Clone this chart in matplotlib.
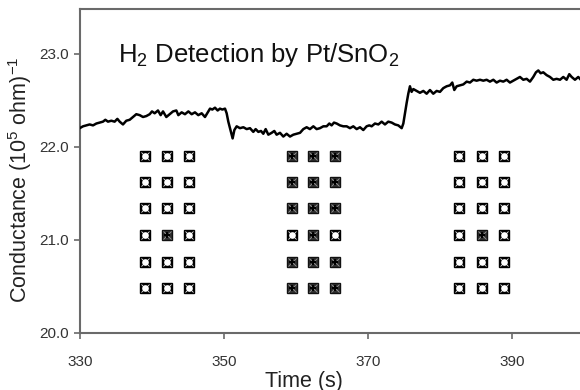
import matplotlib
matplotlib.use("Agg")
import matplotlib.pyplot as plt
import numpy as np

plt.rcParams['font.family'] = ['Liberation Sans', 'DejaVu Sans']
plt.rcParams['mathtext.fontset'] = 'custom'
plt.rcParams['mathtext.rm'] = 'Liberation Sans'
plt.rcParams['mathtext.it'] = 'Liberation Sans:italic'

# ---- trace data (time in s, conductance) ----
time_s = [
    329.96, 330.42, 330.88, 331.34, 331.81, 332.27, 332.73, 333.19, 333.52, 333.89,
    334.35, 334.81, 335.19, 335.51, 335.97, 336.43, 336.90, 337.36, 337.82, 338.29,
    338.75, 339.21, 339.68, 340.00, 340.37, 340.83, 341.20, 341.53, 341.99, 342.46,
    342.92, 343.38, 343.66, 344.12, 344.58, 345.05, 345.51, 345.97, 346.43, 346.90,
    347.36, 347.82, 348.06, 348.38, 348.75, 349.12, 349.44, 349.77, 350.14, 350.37,
    350.60, 350.83, 351.06, 351.20, 351.44, 351.76, 352.22, 352.69, 353.15, 353.61,
    354.07, 354.40, 354.77, 355.14, 355.46, 355.79, 356.16, 356.62, 356.99, 357.31,
    357.78, 358.24, 358.70, 359.17, 359.63, 360.09, 360.56, 361.02, 361.48, 361.94,
    362.41, 362.87, 363.33, 363.80, 364.26, 364.63, 364.95, 365.28, 365.65, 366.11,
    366.57, 367.04, 367.50, 367.96, 368.43, 368.89, 369.35, 369.81, 370.18, 370.51,
    370.97, 371.44, 371.90, 372.36, 372.82, 373.29, 373.75, 374.21, 374.68, 374.91,
    375.14, 375.37, 375.60, 375.83, 376.06, 376.30, 376.76, 377.22, 377.69, 378.15,
    378.61, 379.07, 379.54, 380.00, 380.46, 380.93, 381.39, 381.71, 381.99, 382.32,
    382.78, 383.24, 383.71, 384.17, 384.63, 385.09, 385.56, 386.02, 386.48, 386.94,
    387.41, 387.87, 388.33, 388.80, 389.26, 389.72, 390.19, 390.65, 391.11, 391.57,
    392.04, 392.50, 392.96, 393.33, 393.66, 393.98, 394.35, 394.81, 395.28, 395.74,
    396.20, 396.67, 397.13, 397.59, 397.96, 398.29, 398.75, 399.21, 399.44,
]
conductance = [
    22.20, 22.22, 22.23, 22.24, 22.23, 22.25, 22.26, 22.27, 22.29, 22.27,
    22.28, 22.27, 22.30, 22.27, 22.24, 22.28, 22.29, 22.32, 22.35, 22.34,
    22.32, 22.33, 22.35, 22.38, 22.36, 22.39, 22.34, 22.38, 22.32, 22.35,
    22.38, 22.39, 22.34, 22.37, 22.35, 22.38, 22.35, 22.37, 22.34, 22.36,
    22.32, 22.38, 22.41, 22.40, 22.42, 22.39, 22.41, 22.40, 22.41, 22.36,
    22.27, 22.20, 22.13, 22.09, 22.18, 22.22, 22.20, 22.21, 22.19, 22.20,
    22.16, 22.19, 22.16, 22.17, 22.14, 22.19, 22.13, 22.15, 22.17, 22.13,
    22.15, 22.11, 22.14, 22.11, 22.13, 22.14, 22.15, 22.19, 22.21, 22.19,
    22.22, 22.19, 22.20, 22.22, 22.22, 22.25, 22.23, 22.26, 22.25, 22.23,
    22.22, 22.22, 22.20, 22.22, 22.19, 22.21, 22.18, 22.22, 22.23, 22.22,
    22.25, 22.24, 22.27, 22.24, 22.27, 22.26, 22.24, 22.23, 22.20, 22.25,
    22.36, 22.47, 22.57, 22.65, 22.59, 22.62, 22.60, 22.58, 22.60, 22.57,
    22.61, 22.57, 22.60, 22.59, 22.63, 22.65, 22.66, 22.69, 22.61, 22.65,
    22.66, 22.67, 22.70, 22.69, 22.72, 22.71, 22.72, 22.71, 22.72, 22.70,
    22.72, 22.69, 22.71, 22.70, 22.72, 22.69, 22.71, 22.73, 22.75, 22.72,
    22.73, 22.70, 22.75, 22.80, 22.82, 22.79, 22.80, 22.77, 22.75, 22.72,
    22.73, 22.72, 22.75, 22.72, 22.78, 22.75, 22.72, 22.75, 22.73,
]

# ---- marker grids (1 = dark/filled, 0 = open) ----
group1_x = [339.0, 342.1, 345.2]
group2_x = [359.4, 362.4, 365.4]
group3_x = [382.6, 385.8, 388.9]
row_y = [21.90, 21.62, 21.34, 21.05, 20.76, 20.48]
group1_state = [[0, 0, 0], [0, 0, 0], [0, 0, 0], [0, 1, 0], [0, 0, 0], [0, 0, 0]]
group2_state = [[1, 1, 1], [1, 1, 1], [1, 1, 1], [0, 1, 0], [1, 1, 1], [1, 1, 1]]
group3_state = [[0, 0, 0], [0, 0, 0], [0, 0, 0], [0, 1, 0], [0, 0, 0], [0, 0, 0]]

x_ticks = [330, 350, 370, 390]
y_ticks = [20.0, 21.0, 22.0, 23.0]
y_tick_labels = ["20.0", "21.0", "22.0", "23.0"]

fig = plt.figure(figsize=(5.8, 3.9), dpi=100)
ax = fig.add_axes([80/580, 1 - 333/390, 500/580, (333 - 9)/390])

ax.plot(time_s, conductance, color='black', lw=1.8, zorder=3)

spine_c = '#6a6a6a'
for gx, gs in [(group1_x, group1_state), (group2_x, group2_state), (group3_x, group3_state)]:
    for ri, yv in enumerate(row_y):
        for ci, xv in enumerate(gx):
            filled = gs[ri][ci]
            if filled:
                ax.plot(xv, yv, marker='s', ms=7.0, mfc='#303030', mec='#111111', mew=1.0, ls='none', zorder=4)
                ax.plot(xv, yv, marker='x', ms=6.0, mec='#9a9a9a', mew=0.6, ls='none', zorder=5)
                ax.plot(xv, yv, marker='P', ms=3.8, mfc='black', mec='black', mew=0, ls='none', zorder=6)
            else:
                ax.plot(xv, yv, marker='s', ms=7.0, mfc='black', mec='black', mew=1.0, ls='none', zorder=4)
                ax.plot(xv, yv, marker='o', ms=4.8, mfc='white', mec='white', mew=0, ls='none', zorder=5)
                ax.plot(xv, yv, marker='x', ms=6.0, mec='white', mew=0.55, ls='none', zorder=6)

ax.set_xlim(330, 399.45)
ax.set_ylim(20.0, 23.48)
ax.set_xticks(x_ticks)
ax.set_yticks(y_ticks)
ax.set_yticklabels(y_tick_labels)

for s in ['left', 'bottom', 'top']:
    ax.spines[s].set_color(spine_c)
    ax.spines[s].set_linewidth(1.5)
ax.spines['right'].set_visible(False)

ax.tick_params(axis='both', direction='out', length=4, width=1.2, color=spine_c,
               labelsize=11, labelcolor='#333333')
ax.tick_params(axis='x', pad=12)
ax.tick_params(axis='y', pad=4)

ax.set_ylabel("Conductance (10$^5$ ohm)$^{-1}$", fontsize=15.5, color='#222222')
ax.yaxis.label.set_verticalalignment('center')
ax.yaxis.set_label_coords(-(80 - 20)/500, (333 - 180)/324)
fig.text(304/580, 1 - 381/390, "Time (s)", fontsize=15.5, color='#222222', ha='center', va='center')

fig.text(118/580, 1 - 62/390, "H$_2$ Detection by Pt/SnO$_2$", fontsize=18.5, color='#111111',
         ha='left', va='baseline')

fig.savefig("out.png", dpi=100)
